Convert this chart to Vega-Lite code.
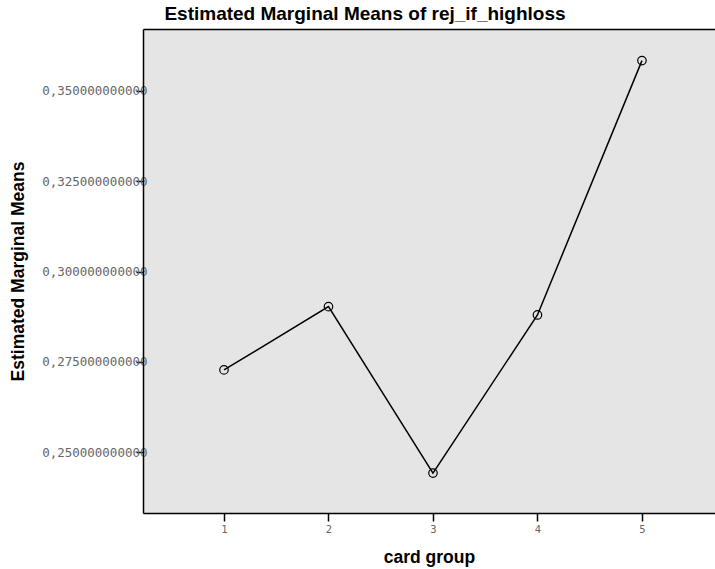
{
  "$schema": "https://vega.github.io/schema/vega-lite/v6.json",
  "autosize": "none",
  "width": 572,
  "height": 484,
  "padding": {"left": 143, "top": 29, "right": 0, "bottom": 56},
  "background": "white",
  "title": {
    "text": "Estimated Marginal Means of rej_if_highloss",
    "font": "Liberation Sans",
    "fontSize": 19,
    "fontWeight": "bold",
    "color": "black",
    "anchor": "middle",
    "dx": -64,
    "offset": 5
  },
  "config": {"view": {"fill": "#e5e5e5", "stroke": null}},
  "data": {
    "values": [
      {"group": 1, "mean": 0.2728},
      {"group": 2, "mean": 0.2903},
      {"group": 3, "mean": 0.2443},
      {"group": 4, "mean": 0.2880},
      {"group": 5, "mean": 0.3583}
    ]
  },
  "layer": [
    {
      "mark": {"type": "line", "color": "black", "strokeWidth": 1.5},
      "encoding": {
        "x": {
          "field": "group",
          "type": "quantitative",
          "scale": {"domain": [0.225, 5.699], "nice": false, "zero": false},
          "axis": {
            "values": [1, 2, 3, 4, 5],
            "format": "d",
            "grid": false,
            "labelFont": "DejaVu Sans Mono",
            "labelFontSize": 10.5,
            "labelColor": "#666666",
            "labelPadding": 3,
            "tickSize": 8,
            "tickColor": "black",
            "tickWidth": 1.5,
            "domainColor": "black",
            "domainWidth": 1.5,
            "title": "card group",
            "titleFont": "Liberation Sans",
            "titleFontSize": 17.5,
            "titleFontWeight": "bold",
            "titleColor": "black",
            "titleY": 49,
            "titleBaseline": "alphabetic"
          }
        },
        "y": {
          "field": "mean",
          "type": "quantitative",
          "scale": {"domain": [0.23326, 0.36704], "nice": false, "zero": false},
          "axis": {
            "values": [0.25, 0.275, 0.3, 0.325, 0.35],
            "labelExpr": "replace(format(datum.value, '.12f'), '.', ',')",
            "grid": false,
            "labelFont": "DejaVu Sans Mono",
            "labelFontSize": 12.5,
            "labelColor": "#666666",
            "labelPadding": -11,
            "tickSize": 7,
            "tickColor": "black",
            "tickWidth": 1.5,
            "domainColor": "black",
            "domainWidth": 1.5,
            "title": "Estimated Marginal Means",
            "titleFont": "Liberation Sans",
            "titleFontSize": 17.5,
            "titleFontWeight": "bold",
            "titleColor": "black",
            "titleX": -125,
            "titleBaseline": "middle"
          }
        }
      }
    },
    {
      "mark": {"type": "point", "shape": "circle", "size": 72, "stroke": "black", "strokeWidth": 1.2, "filled": false, "opacity": 1},
      "encoding": {
        "x": {
          "field": "group",
          "type": "quantitative",
          "axis": {
            "orient": "top",
            "labels": false,
            "ticks": false,
            "title": null,
            "grid": false,
            "domainColor": "black",
            "domainWidth": 1.5
          }
        },
        "y": {"field": "mean", "type": "quantitative"}
      }
    }
  ],
  "resolve": {"axis": {"x": "independent"}}
}
